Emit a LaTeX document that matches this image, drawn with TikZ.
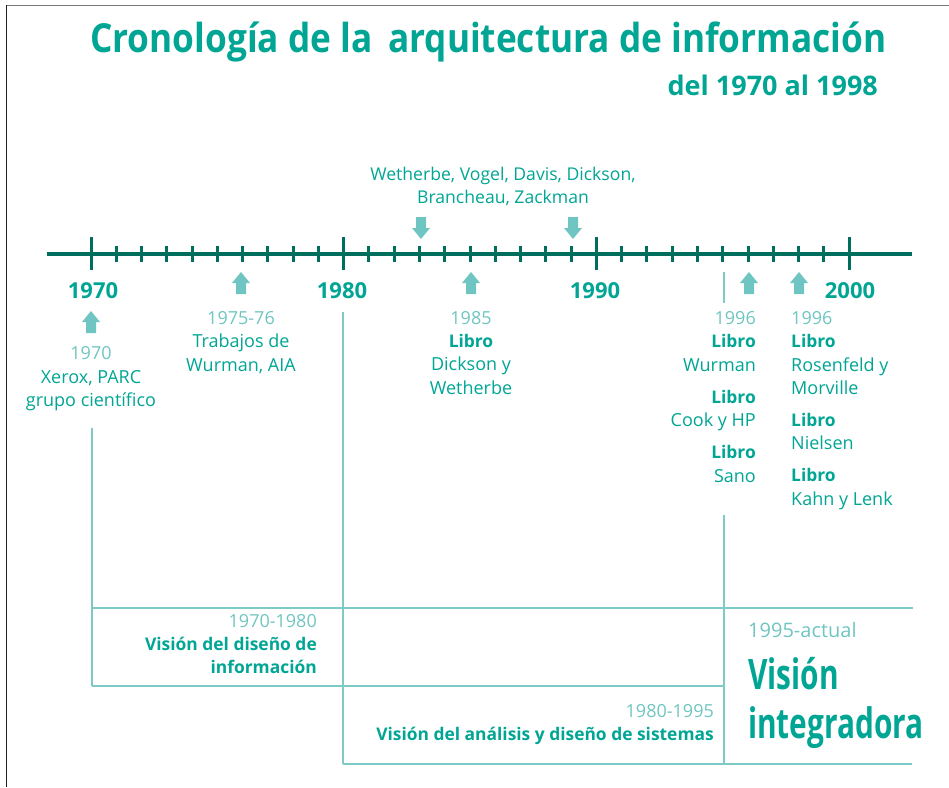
\documentclass[tikz,border=0pt]{standalone}
\usepackage{fontspec}
\setmainfont{Open Sans}
\newfontfamily\titlefont{Open Sans}[FakeStretch=0.88]
\newfontfamily\bigfont{Open Sans}[FakeStretch=0.71]
\definecolor{teal1}{HTML}{00A594}
\definecolor{lightc}{HTML}{6FC5C1}
\definecolor{darkc}{HTML}{006E5C}
\definecolor{boxc}{HTML}{7ECAC7}
\tikzset{
  tx/.style={anchor=base, inner sep=0pt, text=teal1, font=\fontsize{18}{22}\selectfont},
  txl/.style={tx, text=lightc},
  txb/.style={tx, font=\fontsize{17.4}{22}\selectfont\bfseries},
  yearlbl/.style={anchor=base, inner sep=0pt, text=teal1, font=\fontsize{22}{26}\selectfont\bfseries},
  tlstyle/.style={draw=darkc, line width=4pt},
  majortick/.style={draw=darkc, line width=3pt},
  minortick/.style={draw=darkc, line width=3pt},
  boxline/.style={draw=boxc, line width=2pt},
  uparrow/.pic={\fill[lightc] (-5,0) -- (-5,-11) -- (-9,-11) -- (0,-22) -- (9,-11) -- (5,-11) -- (5,0) -- cycle;},
  downarrow/.pic={\fill[lightc] (-5,0) -- (-5,11) -- (-9,11) -- (0,22) -- (9,11) -- (5,11) -- (5,0) -- cycle;}
}
\begin{document}
\begin{tikzpicture}[x=1pt,y=-1pt]
\useasboundingbox (0,0) rectangle (949,787);
% frame
\coordinate (fTL) at (6,5.5);
\coordinate (fTR) at (949,5.5);
\coordinate (fL1) at (6.7,5);
\coordinate (fL2) at (6.7,787);
\draw[color={rgb,255:red,120;green,120;blue,120}, line width=1.7pt] (fTL) -- (fTR);
\draw[color={rgb,255:red,30;green,30;blue,30}, line width=1.3pt] (fL1) -- (fL2);
% title
\node[anchor=base west, inner sep=0pt, text=teal1, font=\titlefont\fontsize{40}{46}\selectfont\bfseries] (title) at (90,52) {Cronología de la\, arquitectura de información};
\node[anchor=base east, inner sep=0pt, text=teal1, font=\fontsize{27}{31}\selectfont\bfseries] (subtitle) at (878,95) {del 1970 al 1998};
% timeline
\coordinate (tlL) at (47,254);
\coordinate (tlR) at (912,254);
\draw[tlstyle] (tlL) -- (tlR);
\foreach \i in {0,...,30}{
  \pgfmathsetmacro{\xx}{91+\i*25.27}
  \pgfmathtruncatemacro{\m}{mod(\i,10)}
  \ifnum\m=0
    \draw[majortick] (\xx,237) -- (\xx,270);
  \else
    \draw[minortick] (\xx,246) -- (\xx,262);
  \fi
}
% year labels
\node[yearlbl] (y1970) at (93,298) {1970};
\node[yearlbl] (y1980) at (342,298) {1980};
\node[yearlbl] (y1990) at (595,298) {1990};
\node[yearlbl] (y2000) at (850,298) {2000};
% arrows
\pic at (91,333) {uparrow};
\pic at (241,294) {uparrow};
\pic at (471,294) {uparrow};
\pic at (749,294) {uparrow};
\pic at (799,294) {uparrow};
\pic at (421,217) {downarrow};
\pic at (573,217) {downarrow};
% top text
\node[tx, font=\fontsize{17.6}{22}\selectfont] (w1) at (503,180) {Wetherbe, Vogel, Davis, Dickson,};
\node[tx, font=\fontsize{17.6}{22}\selectfont] (w2) at (503,203) {Brancheau, Zackman};
% 1970 column
\node[txl] (a1) at (91,359) {1970};
\node[tx] (a2) at (91,383) {Xerox, PARC};
\node[tx] (a3) at (91,406) {grupo científico};
% 1975 column
\node[txl] (b1) at (241,324) {1975-76};
\node[tx] (b2) at (241,347) {Trabajos de};
\node[tx] (b3) at (241,371) {Wurman, AIA};
% 1985 column
\node[txl] (c1) at (471,324) {1985};
\node[txb] (c2) at (471,347) {Libro};
\node[tx] (c3) at (471,370) {Dickson y};
\node[tx] (c4) at (471,394) {Wetherbe};
% 1996 left column
\node[txl, anchor=base east] (d1) at (756,324) {1996};
\node[txb, anchor=base east] (d2) at (756,347) {Libro};
\node[tx, anchor=base east] (d3) at (756,371) {Wurman};
\node[txb, anchor=base east] (d4) at (756,403) {Libro};
\node[tx, anchor=base east] (d5) at (756,426) {Cook y HP};
\node[txb, anchor=base east] (d6) at (756,458) {Libro};
\node[tx, anchor=base east] (d7) at (756,482) {Sano};
% 1996 right column
\node[txl, anchor=base west] (e1) at (791,324) {1996};
\node[txb, anchor=base west] (e2) at (791,347) {Libro};
\node[tx, anchor=base west] (e3) at (791,371) {Rosenfeld y};
\node[tx, anchor=base west] (e4) at (791,394) {Morville};
\node[txb, anchor=base west] (e5) at (791,426) {Libro};
\node[tx, anchor=base west] (e6) at (791,449) {Nielsen};
\node[txb, anchor=base west] (e7) at (791,481) {Libro};
\node[tx, anchor=base west] (e8) at (791,505) {Kahn y Lenk};
% frame lines
\coordinate (v1a) at (92,428);
\coordinate (v1b) at (92,686);
\coordinate (v2a) at (343,312);
\coordinate (v2b) at (343,764);
\coordinate (v3a) at (724,515);
\coordinate (v3b) at (724,764);
\coordinate (v4a) at (724,272);
\coordinate (v4b) at (724,303);
\coordinate (h1a) at (92,608);
\coordinate (h1b) at (913,608);
\coordinate (h2a) at (92,686);
\coordinate (h2b) at (724,686);
\coordinate (h3a) at (343,764);
\coordinate (h3b) at (912,764);
\draw[boxline] (v1a) -- (v1b);
\draw[boxline] (v2a) -- (v2b);
\draw[boxline] (v3a) -- (v3b);
\draw[boxline] (v4a) -- (v4b);
\draw[boxline] (h1a) -- (h1b);
\draw[boxline] (h2a) -- (h2b);
\draw[boxline] (h3a) -- (h3b);
% box texts
\node[txl, anchor=base east] (p1) at (317,627) {1970-1980};
\node[txb, anchor=base east] (p2) at (317,650) {Visión del diseño de};
\node[txb, anchor=base east] (p3) at (317,673) {información};
\node[txl, anchor=base east] (q1) at (714,717) {1980-1995};
\node[txb, anchor=base east] (q2) at (714,740) {Visión del análisis y diseño de sistemas};
\node[txl, anchor=base west, font=\fontsize{20}{24}\selectfont] (r1) at (748,637) {1995-actual};
\node[anchor=base west, inner sep=0pt, text=teal1, font=\bigfont\fontsize{42}{48}\selectfont\bfseries] (r2) at (748,689) {Visión};
\node[anchor=base west, inner sep=0pt, text=teal1, font=\bigfont\fontsize{42}{48}\selectfont\bfseries] (r3) at (748,738) {integradora};
\end{tikzpicture}
\end{document}
